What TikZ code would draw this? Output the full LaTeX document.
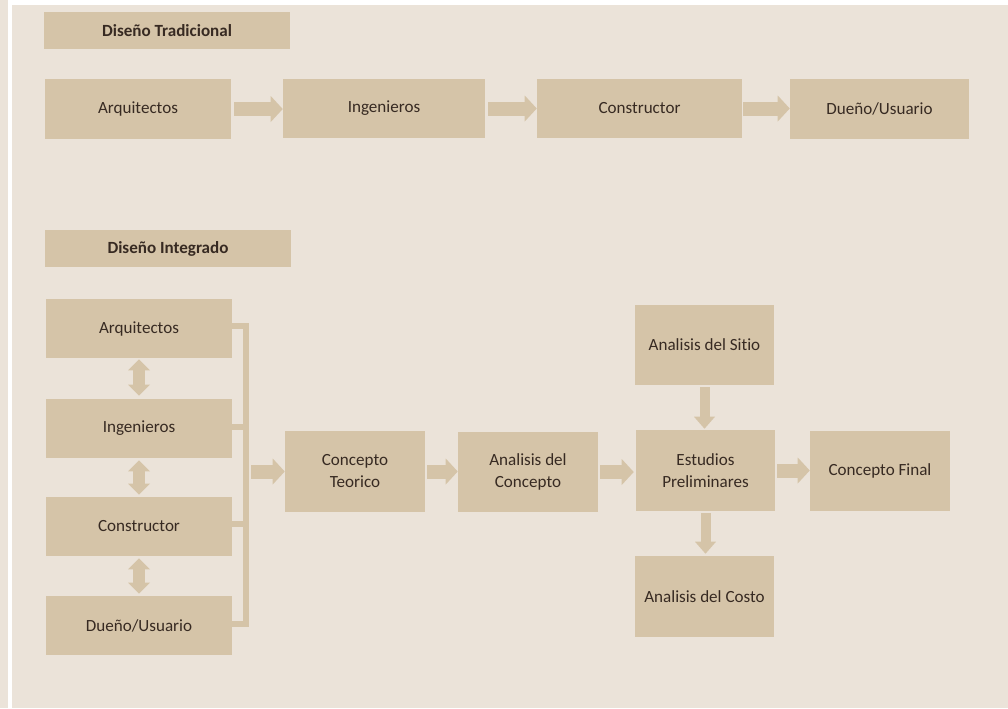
\documentclass[tikz,border=0pt]{standalone}
\usepackage{fontspec}
\setmainfont{Carlito}[Ligatures=NoCommon]
\usetikzlibrary{arrows.meta}
\definecolor{bgc}{RGB}{235,227,217}
\definecolor{boxc}{RGB}{213,196,168}
\definecolor{txtc}{RGB}{55,42,34}
\begin{document}
\begin{tikzpicture}[x=0.75pt,y=-0.75pt,
  sz/.style 2 args={minimum width=#1*0.75pt,minimum height=#2*0.75pt},
  box/.style={fill=boxc,draw=none,inner sep=0pt,align=center,text=txtc,
    font=\fontsize{12.8}{16.5}\selectfont},
  hd/.style={box,font=\fontsize{12.8}{16.5}\selectfont\bfseries},
  harrow/.style={draw=boxc,line width=10.5pt,
    -{Triangle[width=19.5pt,length=9pt,line width=0pt,fill=boxc,color=boxc]}},
  varrow/.style={draw=boxc,line width=7.5pt,
    -{Triangle[width=15.75pt,length=9pt,line width=0pt,fill=boxc,color=boxc]}},
  darrow/.style={draw=boxc,line width=9pt,
    {Triangle[width=16.5pt,length=8.25pt,line width=0pt,fill=boxc,color=boxc]}-{Triangle[width=16.5pt,length=8.25pt,line width=0pt,fill=boxc,color=boxc]}},
  bracket/.style={draw=boxc,line width=4.5pt,line join=miter}]
\useasboundingbox (0,0) rectangle (1008,708);
% page background and white rules
\fill[bgc] (0,0) rectangle (1008,708);
\fill[white] (8,0) rectangle (12,708);
\fill[white] (12,0) rectangle (1008,5);

% --- traditional process ---
\node[hd,sz={246}{37}] (h1) at (167,30.5) {Diseño Tradicional};
\node[box,sz={186}{60}] (a1) at (138,109) {Arquitectos};
\node[box,sz={202}{59}] (i1) at (384,108.5) {Ingenieros};
\node[box,sz={205}{59}] (c1) at (639.5,108.5) {Constructor};
\node[box,sz={179}{60}] (d1) at (879.5,108.5) {Dueño/Usuario};

\draw[harrow,shorten <=2.25pt] (a1.east) -- (a1.east -| i1.west);
\draw[harrow,shorten <=2.25pt] (i1.east) -- (c1.west);
\draw[harrow,shorten <=0.75pt] (c1.east) -- (d1.west);

% --- integrated process ---
\node[hd,sz={246}{37}] (h2) at (168,248.5) {Diseño Integrado};
\node[box,sz={186}{59}] (a2) at (139,328.5) {Arquitectos};
\node[box,sz={186}{59}] (i2) at (139,428.5) {Ingenieros};
\node[box,sz={186}{59}] (c2) at (139,526.5) {Constructor};
\node[box,sz={186}{59}] (d2) at (139,625.5) {Dueño/Usuario};

\node[box,sz={140}{81}] (ct) at (355,471.5) {Concepto\\Teorico};
\node[box,sz={140}{80}] (ac) at (528,472) {Analisis del\\Concepto};
\node[box,sz={139}{81}] (ep) at (705.5,470.5) {Estudios\\Preliminares};
\node[box,sz={139}{80}] (as) at (704.5,345) {Analisis del Sitio};
\node[box,sz={139}{81}] (ak) at (704.5,596.5) {Analisis del Costo};
\node[box,sz={140}{80}] (cf) at (880,471) {Concepto Final};

% two-way links between the team members
\draw[darrow,shorten <=0.75pt,shorten >=2.25pt] (a2.south) -- (i2.north);
\draw[darrow,shorten <=1.5pt,shorten >=1.5pt] (i2.south) -- (c2.north);
\draw[darrow,shorten <=1.5pt,shorten >=1.5pt] (c2.south) -- (d2.north);

% bracket gathering the team
\coordinate (bx) at (246,0);
\draw[bracket] ([yshift=2.25pt]a2.east) -- ([yshift=2.25pt]a2.east -| bx)
  -- ([yshift=1pt]d2.east -| bx) -- ([yshift=1pt]d2.east);
\draw[bracket] ([yshift=1pt]i2.east) -- ([yshift=1pt]i2.east -| bx);
\draw[bracket] ([yshift=2.25pt]c2.east) -- ([yshift=2.25pt]c2.east -| bx);
\coordinate (bs) at (251,471.5);
\draw[harrow] (bs) -- (ct.west);

% concept flow
\draw[harrow,shorten <=1.5pt] (ct.east) -- (ct.east -| ac.west);
\draw[harrow,shorten <=1.5pt,shorten >=1.5pt] (ac.east) -- (ac.east -| ep.west);
\draw[harrow,shorten <=1.5pt] (ep.east) -- (ep.east -| cf.west);
\draw[varrow,shorten <=1.5pt,shorten >=0.75pt] (as.south) -- (as.south |- ep.north);
\draw[varrow,shorten <=1.5pt,shorten >=1.5pt] (ep.south) -- (ep.south |- ak.north);
\end{tikzpicture}
\end{document}
